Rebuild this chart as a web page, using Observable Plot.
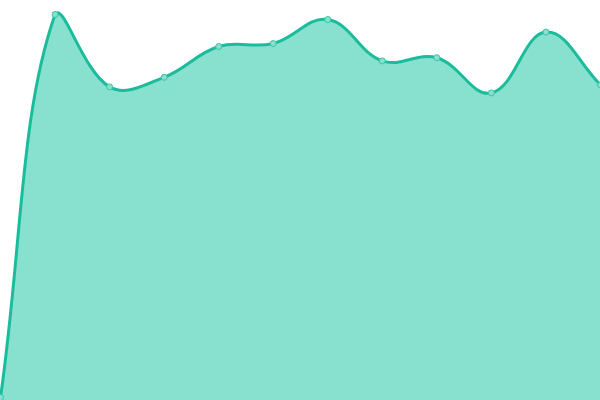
<!DOCTYPE html>
<html><head><meta charset="utf-8">
<script src="https://cdn.jsdelivr.net/npm/d3@7"></script>
<script src="https://cdn.jsdelivr.net/npm/@observablehq/plot@0.6"></script>
<style>html,body{margin:0;padding:0;background:#fff;overflow:hidden}</style>
</head><body><div id="chart"></div>
<script>
const indices = [0,1,2,3,4,5,6,7,8,9,10,11];
const values = [0.75, 96.5, 78.4, 80.8, 88.5, 89.25, 95.25, 84.9, 85.7, 76.9, 92.1, 78.9];
const data = indices.map((i, k) => ({i, v: values[k]}));

const W = 600, H = 400;
// Spline curve (tension-based, with control points capped to the plot area)
function makeSplineCurve(tension, bounds) {
  function Curve(context) { this._context = context; }
  Curve.prototype = {
    areaStart() { this._line = 0; },
    areaEnd() { this._line = NaN; },
    lineStart() { this._pts = []; },
    point(x, y) { this._pts.push([+x, +y]); },
    lineEnd() {
      const p = this._pts, n = p.length, c = this._context;
      if (n) {
        if (this._line) c.lineTo(p[0][0], p[0][1]); else c.moveTo(p[0][0], p[0][1]);
        const cps = [];
        let prev = p[0];
        for (let i = 0; i < n; i++) {
          const cur = p[i], next = p[Math.min(i + 1, n - 1)];
          const d01 = Math.hypot(cur[0] - prev[0], cur[1] - prev[1]);
          const d12 = Math.hypot(next[0] - cur[0], next[1] - cur[1]);
          let s01 = d01 / (d01 + d12), s12 = d12 / (d01 + d12);
          if (isNaN(s01)) s01 = 0; if (isNaN(s12)) s12 = 0;
          const fa = tension * s01, fb = tension * s12;
          const cl = (v, lo, hi) => Math.max(lo, Math.min(hi, v));
          cps.push({
            pin: [cl(cur[0] - fa * (next[0] - prev[0]), bounds[0], bounds[1]), cl(cur[1] - fa * (next[1] - prev[1]), bounds[2], bounds[3])],
            pout: [cl(cur[0] + fb * (next[0] - prev[0]), bounds[0], bounds[1]), cl(cur[1] + fb * (next[1] - prev[1]), bounds[2], bounds[3])]
          });
          prev = cur;
        }
        for (let i = 1; i < n; i++) {
          const a = cps[i - 1].pout, b = cps[i].pin;
          c.bezierCurveTo(a[0], a[1], b[0], b[1], p[i][0], p[i][1]);
        }
      }
      if (this._line || (this._line !== 0 && n === 1)) c.closePath();
      this._line = 1 - this._line;
    }
  };
  return (context) => new Curve(context);
}
const spline = makeSplineCurve(0.4, [0, W, 0, H]);

const chart = Plot.plot({
  width: W, height: H,
  margin: 0,
  x: {domain: [0, 11], axis: null},
  y: {domain: [0, 100], axis: null},
  marks: [
    Plot.areaY(data, {x: "i", y: "v", curve: spline, fill: "#88e0cf", fillOpacity: 1}),
    Plot.lineY(data, {x: "i", y: "v", curve: spline, stroke: "#1abc9c", strokeWidth: 3}),
    Plot.dot(data, {x: "i", y: "v", r: 3, fill: "#88e0cf", stroke: "#3cc4a6", strokeWidth: 1})
  ]
});
document.getElementById("chart").appendChild(chart);
</script></body></html>
